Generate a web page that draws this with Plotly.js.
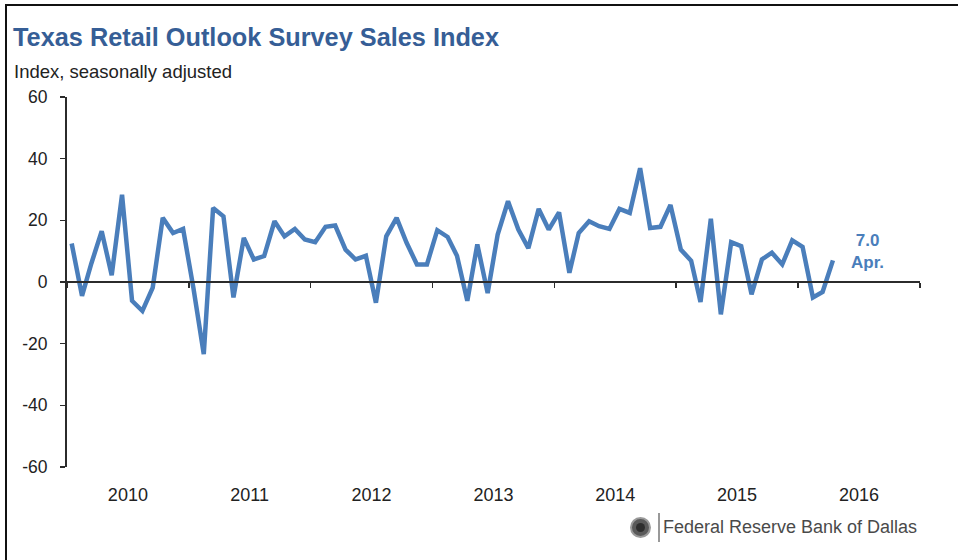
<!DOCTYPE html>
<html>
<head>
<meta charset="utf-8">
<script src="https://cdn.plot.ly/plotly-3.0.1.min.js"></script>
<style>
  html, body { margin: 0; padding: 0; background: #fff; }
  #wrap { position: relative; width: 958px; height: 560px; overflow: hidden; }
  #chart { position: absolute; left: 0; top: 0; width: 958px; height: 560px; }
  #frame { position: absolute; left: 5px; top: 4px; width: 1000px; height: 600px;
           border-left: 2px solid #111; border-top: 2px solid #111; pointer-events: none; }
</style>
</head>
<body>
<div id="wrap">
  <div id="chart"></div>
  <div id="frame"></div>
</div>
<script>
// ---- Data ----
const startYear = 2010;
const startMonth = 1; // January 2010
const salesIndex = [
  12.5, -4.5, 6, 16.5, 2.2, 28.3, -6.1, -9.4, -1.8, 20.8, 15.9, 17.2,
  -2, -23.4, 24, 21.3, -5, 14.3, 7.3, 8.4, 19.7, 14.8, 17.2, 13.8,
  12.9, 17.9, 18.3, 10.5, 7.3, 8.5, -6.7, 14.8, 20.8, 12.7, 5.7, 5.7,
  16.8, 14.6, 8.5, -6.1, 12.2, -3.6, 15.4, 26.2, 17, 11, 23.7, 17,
  22.6, 3, 15.9, 19.7, 18.1, 17.2, 23.7, 22.4, 36.9, 17.5, 17.9, 25,
  10.5, 6.9, -6.5, 20.5, -10.5, 12.9, 11.6, -4, 7.3, 9.5, 5.7, 13.5,
  11.4, -5, -3.2, 7.0
];
const yTickVals = [-60, -40, -20, 0, 20, 40, 60];
const yTickText = ['-60', '-40', '-20', '0', '20', '40', '60'];
const xRange = ['2010-01-01', '2017-01-01'];
const lastLabelValue = '7.0';
const lastLabelMonth = 'Apr.';

// month dates (mid-month) for each observation
const months = salesIndex.map((_, i) => {
  const m0 = startMonth - 1 + i;
  const y = startYear + Math.floor(m0 / 12);
  const m = (m0 % 12) + 1;
  return y + '-' + String(m).padStart(2, '0') + '-15';
});

// ---- Layout geometry ----
const W = 958, H = 560;
const M = { l: 67, r: 38, t: 97, b: 93 };
const PW = W - M.l - M.r, PH = H - M.t - M.b;
const px = x => (x - M.l) / PW;
const py = y => (H - M.b - y) / PH;

const lineColor = '#4a7ebb';
const axisColor = '#2b2b2b';
const font = 'Liberation Sans, Arial, sans-serif';

const traces = [{
  type: 'scatter',
  mode: 'lines',
  x: months,
  y: salesIndex,
  line: { color: lineColor, width: 4.5 },
  hoverinfo: 'x+y',
  showlegend: false
}, {
  // carrier so the zero-line axis (x2) is drawn
  type: 'scatter', mode: 'lines', xaxis: 'x2', yaxis: 'y',
  x: xRange, y: [null, null], hoverinfo: 'skip', showlegend: false
}];

const layout = {
  width: W, height: H,
  margin: M,
  paper_bgcolor: '#ffffff',
  plot_bgcolor: '#ffffff',
  showlegend: false,
  font: { family: font, color: '#222', size: 16 },
  title: {
    text: 'Texas Retail Outlook Survey Sales Index',
    font: { family: font, size: 25.3, weight: 700, color: '#365e96' },
    x: 13 / W, xref: 'container', xanchor: 'left',
    y: 1 - 37 / H, yref: 'container', yanchor: 'middle'
  },
  xaxis: {
    type: 'date',
    range: xRange,
    dtick: 'M12',
    tick0: '2010-01-01',
    tickformat: '%Y',
    ticklabelmode: 'period',
    ticks: 'outside',
    ticklen: 11,
    tickcolor: 'rgba(0,0,0,0)',
    showline: false,
    showgrid: false,
    zeroline: false,
    tickfont: { family: font, size: 18, color: '#222' },
    fixedrange: true
  },
  xaxis2: {
    type: 'date',
    overlaying: 'x',
    matches: 'x',
    anchor: 'free',
    position: 0.5,
    side: 'bottom',
    range: xRange,
    dtick: 'M12',
    tick0: '2010-01-01',
    showticklabels: false,
    ticks: 'outside',
    ticklen: 5,
    tickwidth: 1.5,
    tickcolor: axisColor,
    showline: true,
    linecolor: axisColor,
    linewidth: 2,
    showgrid: false,
    zeroline: false
  },
  yaxis: {
    range: [-60, 60],
    tickvals: yTickVals,
    ticktext: yTickText,
    ticks: 'outside',
    ticklen: 5,
    tickwidth: 1.5,
    tickcolor: axisColor,
    ticklabelstandoff: 9,
    showline: true,
    linecolor: axisColor,
    linewidth: 2,
    showgrid: false,
    zeroline: false,
    tickfont: { family: font, size: 17.5, color: '#222' },
    fixedrange: true
  },
  annotations: [
    {
      text: 'Index, seasonally adjusted',
      xref: 'paper', yref: 'paper', x: px(12), y: py(71),
      xanchor: 'left', yanchor: 'middle', showarrow: false,
      font: { family: font, size: 18.5, color: '#222' }
    },
    {
      text: '<b>' + lastLabelValue + '</b><br><b>' + lastLabelMonth + '</b>',
      xref: 'paper', yref: 'paper', x: px(867), y: py(251),
      xanchor: 'center', yanchor: 'middle', showarrow: false,
      align: 'center',
      font: { family: font, size: 17, color: lineColor }
    },
    {
      text: 'Federal Reserve Bank of Dallas',
      xref: 'paper', yref: 'paper', x: px(661), y: py(527),
      xanchor: 'left', yanchor: 'middle', showarrow: false,
      font: { family: font, size: 18, color: '#4a4a4a' }
    }
  ],
  shapes: [
    { type: 'circle', xref: 'paper', yref: 'paper',
      x0: px(631), x1: px(650), y0: py(537), y1: py(518),
      fillcolor: '#5a5a5a', line: { color: '#9a9a9a', width: 2 } },
    { type: 'circle', xref: 'paper', yref: 'paper',
      x0: px(636), x1: px(645), y0: py(532), y1: py(523),
      fillcolor: '#2e2e2e', line: { width: 0 } },
    { type: 'line', xref: 'paper', yref: 'paper',
      x0: px(659), x1: px(659), y0: py(513), y1: py(542),
      line: { color: '#777', width: 1.5 } }
  ]
};

Plotly.newPlot('chart', traces, layout, { displayModeBar: false, staticPlot: true });
</script>
</body>
</html>
